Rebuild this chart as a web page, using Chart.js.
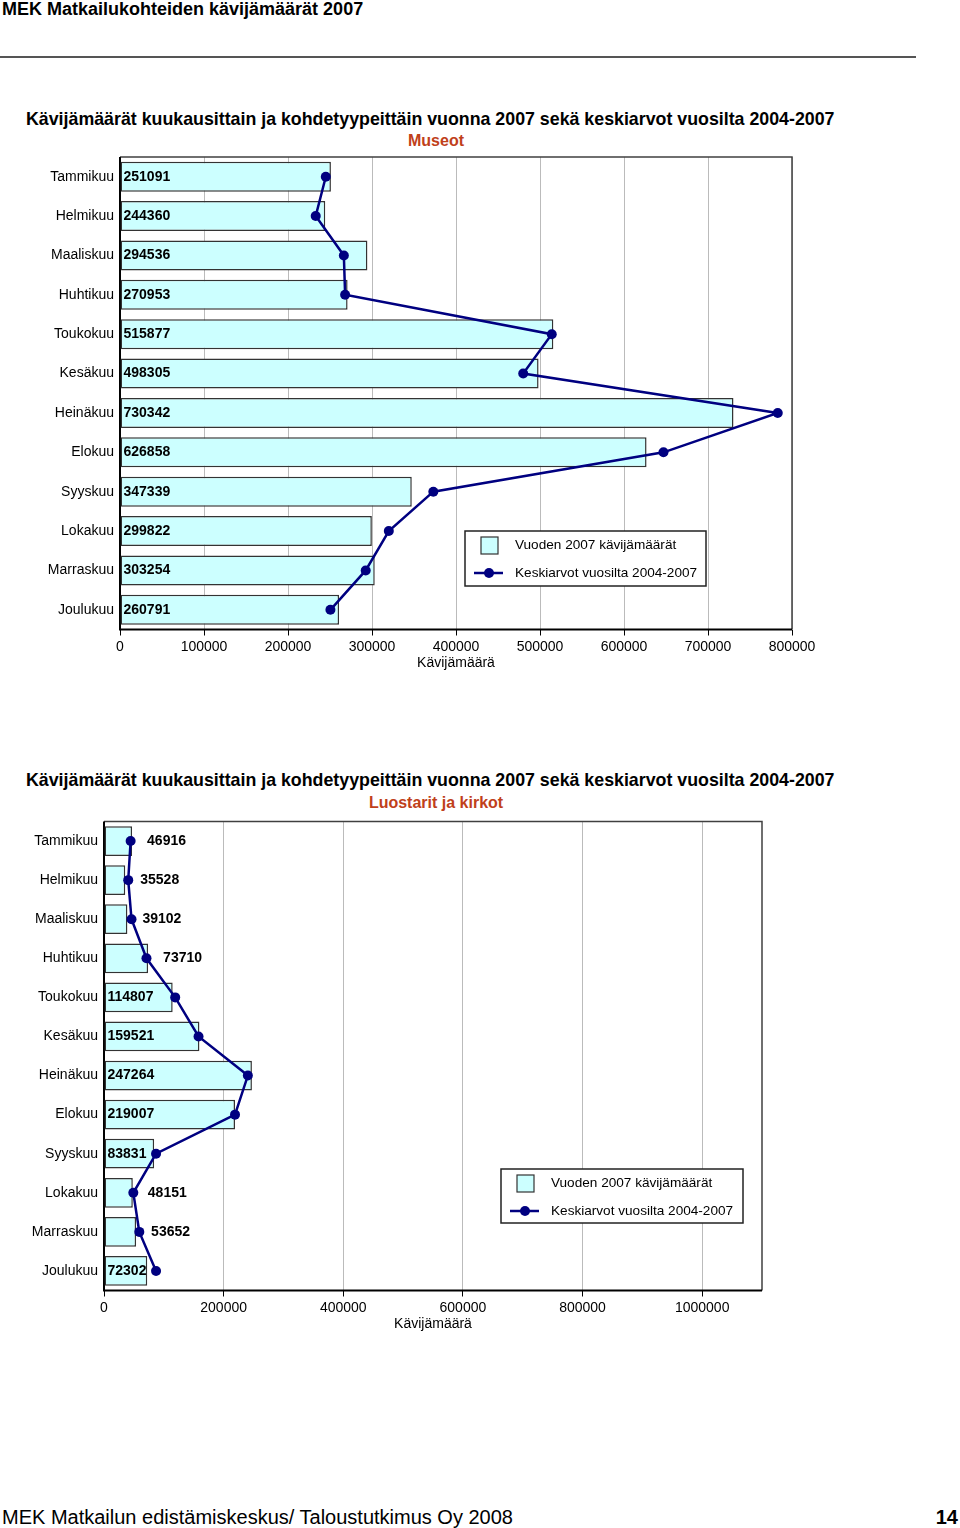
<!DOCTYPE html>
<html>
<head>
<meta charset="utf-8">
<script src="https://cdn.jsdelivr.net/npm/chart.js@4.4.0/dist/chart.umd.min.js"></script>
<style>
body { margin:0; width:960px; height:1528px; position:relative; background:#fff; overflow:hidden;
       font-family:"Liberation Sans", Arial, sans-serif; color:#000; }
.abs { position:absolute; white-space:nowrap; }
.title { font-size:17.8px; font-weight:bold; line-height:20px; left:26px; }
.sub { font-size:16px; font-weight:bold; line-height:20px; left:0; width:872px; text-align:center; color:#c0401a; }
canvas { position:absolute; left:0; }
</style>
</head>
<body>
<div class="abs" style="left:2px;top:-1px;font-size:18px;font-weight:bold;line-height:20px">MEK Matkailukohteiden kävijämäärät 2007</div>
<div class="abs" style="left:0;top:56px;width:916px;height:2px;background:#555"></div>

<div class="abs title" style="top:109px">Kävijämäärät kuukausittain ja kohdetyypeittäin vuonna 2007 sekä keskiarvot vuosilta 2004-2007</div>
<div class="abs sub" style="top:131px">Museot</div>
<canvas id="chart1" width="960" height="522" style="top:150px"></canvas>

<div class="abs title" style="top:770px">Kävijämäärät kuukausittain ja kohdetyypeittäin vuonna 2007 sekä keskiarvot vuosilta 2004-2007</div>
<div class="abs sub" style="top:793px">Luostarit ja kirkot</div>
<canvas id="chart2" width="960" height="518" style="top:815px"></canvas>

<div class="abs" style="left:2px;top:1505px;font-size:20px;line-height:24px">MEK Matkailun edistämiskeskus/ Taloustutkimus Oy 2008</div>
<div class="abs" style="right:2px;top:1505px;font-size:20px;line-height:24px;font-weight:bold">14</div>

<script>
var months = ['Tammikuu', 'Helmikuu', 'Maaliskuu', 'Huhtikuu', 'Toukokuu', 'Kesäkuu',
              'Heinäkuu', 'Elokuu', 'Syyskuu', 'Lokakuu', 'Marraskuu', 'Joulukuu'];
var barLabel = 'Vuoden 2007 kävijämäärät';
var lineLabel = 'Keskiarvot vuosilta 2004-2007';
var axisTitle = 'Kävijämäärä';

// Museot
var museot2007 = [251091, 244360, 294536, 270953, 515877, 498305, 730342, 626858, 347339, 299822, 303254, 260791];
var museotAvg = [245000, 233000, 266500, 268000, 514000, 480000, 783000, 647000, 373000, 320000, 292500, 250500];
var museotTicks = [0, 100000, 200000, 300000, 400000, 500000, 600000, 700000, 800000];

// Luostarit ja kirkot
var kirkot2007 = [46916, 35528, 39102, 73710, 114807, 159521, 247264, 219007, 83831, 48151, 53652, 72302];
var kirkotAvg = [44500, 40500, 46000, 71000, 119000, 158000, 240500, 219000, 87000, 49000, 59000, 87000];
var kirkotTicks = [0, 200000, 400000, 600000, 800000, 1000000];

Chart.defaults.font.family = '"Liberation Sans", Arial, sans-serif';
Chart.defaults.font.size = 14;
Chart.defaults.color = '#000';

var valueLabels = {
    id: 'valueLabels',
    afterDatasetsDraw: function(chart, args, opts) {
        var meta = chart.getDatasetMeta(1);
        var ctx = chart.ctx;
        var outside = opts.outside || [];
        ctx.save();
        ctx.font = 'bold 14px "Liberation Sans", Arial, sans-serif';
        ctx.fillStyle = '#000';
        ctx.textBaseline = 'middle';
        ctx.textAlign = 'left';
        meta.data.forEach(function(bar, i) {
            var v = chart.data.datasets[1].data[i];
            var x = bar.base + 3;
            if (outside.indexOf(i) >= 0) x = bar.x + 15;
            ctx.fillText(String(v), x, bar.y);
        });
        ctx.restore();
    }
};

var plotFrame = {
    id: 'plotFrame',
    beforeDatasetsDraw: function(chart) {
        var a = chart.chartArea;
        var ctx = chart.ctx;
        ctx.save();
        ctx.strokeStyle = '#404040';
        ctx.lineWidth = 1.5;
        ctx.beginPath();
        ctx.moveTo(a.left, a.top);
        ctx.lineTo(a.right, a.top);
        ctx.lineTo(a.right, a.bottom);
        ctx.stroke();
        ctx.strokeStyle = '#000';
        ctx.lineWidth = 2;
        ctx.beginPath();
        ctx.moveTo(a.left, a.top);
        ctx.lineTo(a.left, a.bottom);
        ctx.lineTo(a.right, a.bottom);
        ctx.stroke();
        ctx.restore();
    }
};

var boxLegend = {
    id: 'boxLegend',
    afterDraw: function(chart, args, o) {
        var ctx = chart.ctx;
        var line = chart.data.datasets[0], bar = chart.data.datasets[1];
        ctx.save();
        ctx.fillStyle = '#fff';
        ctx.fillRect(o.x, o.y, o.w, o.h);
        ctx.strokeStyle = '#222';
        ctx.lineWidth = 1.5;
        ctx.strokeRect(o.x, o.y, o.w, o.h);
        ctx.fillStyle = bar.backgroundColor;
        ctx.fillRect(o.x + 16, o.y + 6, 17, 17);
        ctx.strokeStyle = bar.borderColor;
        ctx.lineWidth = 1.2;
        ctx.strokeRect(o.x + 16, o.y + 6, 17, 17);
        ctx.strokeStyle = line.borderColor;
        ctx.lineWidth = 2.5;
        ctx.beginPath();
        ctx.moveTo(o.x + 9, o.y + 42);
        ctx.lineTo(o.x + 38, o.y + 42);
        ctx.stroke();
        ctx.fillStyle = line.borderColor;
        ctx.beginPath();
        ctx.arc(o.x + 24, o.y + 42, 5, 0, Math.PI * 2);
        ctx.fill();
        ctx.fillStyle = '#000';
        ctx.font = '13.6px "Liberation Sans", Arial, sans-serif';
        ctx.textBaseline = 'middle';
        ctx.fillText(bar.label, o.x + 50, o.y + 14);
        ctx.fillText(line.label, o.x + 50, o.y + 42);
        ctx.restore();
    }
};

function makeChart(id, bars, avgs, xmax, tickVals, yWidth, pad, outside, legendBox) {
    var ctx = document.getElementById(id).getContext('2d');
    return new Chart(ctx, {
        type: 'bar',
        data: {
            labels: months,
            datasets: [{
                type: 'line',
                label: lineLabel,
                data: avgs,
                indexAxis: 'y',
                borderColor: '#000080',
                backgroundColor: '#000080',
                borderWidth: 2.5,
                pointRadius: 5,
                pointBackgroundColor: '#000080',
                pointBorderWidth: 0,
                order: 0
            }, {
                type: 'bar',
                label: barLabel,
                data: bars,
                backgroundColor: '#ccffff',
                borderColor: '#333333',
                borderWidth: 1.5,
                borderSkipped: false,
                categoryPercentage: 1,
                barPercentage: 0.76,
                order: 1
            }]
        },
        options: {
            indexAxis: 'y',
            responsive: false,
            animation: false,
            devicePixelRatio: 1,
            layout: { padding: pad },
            plugins: {
                legend: { display: false },
                tooltip: { enabled: false },
                valueLabels: { outside: outside },
                boxLegend: legendBox
            },
            scales: {
                x: {
                    min: 0,
                    max: xmax,
                    grid: { color: '#bbbbbb', lineWidth: 1, tickColor: '#000', tickLength: 6 },
                    border: { display: false },
                    ticks: { autoSkip: false, maxRotation: 0, padding: 3,
                             callback: function(v) { return String(v); } },
                    afterBuildTicks: function(s) {
                        s.ticks = tickVals.map(function(v) { return { value: v }; });
                    },
                    title: { display: true, text: axisTitle, padding: 0, font: { size: 14 } },
                    afterFit: function(s) { s.height = 42.5; }
                },
                y: {
                    grid: { display: false, drawTicks: false },
                    border: { display: false },
                    ticks: { padding: 6, autoSkip: false },
                    afterFit: function(s) { s.width = yWidth; s.paddingTop = 0; s.paddingBottom = 0; }
                }
            }
        },
        plugins: [plotFrame, valueLabels, boxLegend]
    });
}

makeChart('chart1', museot2007, museotAvg, 800000, museotTicks, 120,
    { left: 0, right: 168, top: 7, bottom: 0 }, [],
    { x: 465, y: 381, w: 241, h: 55 });

makeChart('chart2', kirkot2007, kirkotAvg, 1100000, kirkotTicks, 104,
    { left: 0, right: 198, top: 6.5, bottom: 0 }, [0, 1, 2, 3, 9, 10],
    { x: 501, y: 354, w: 242, h: 54 });
</script>
</body>
</html>
